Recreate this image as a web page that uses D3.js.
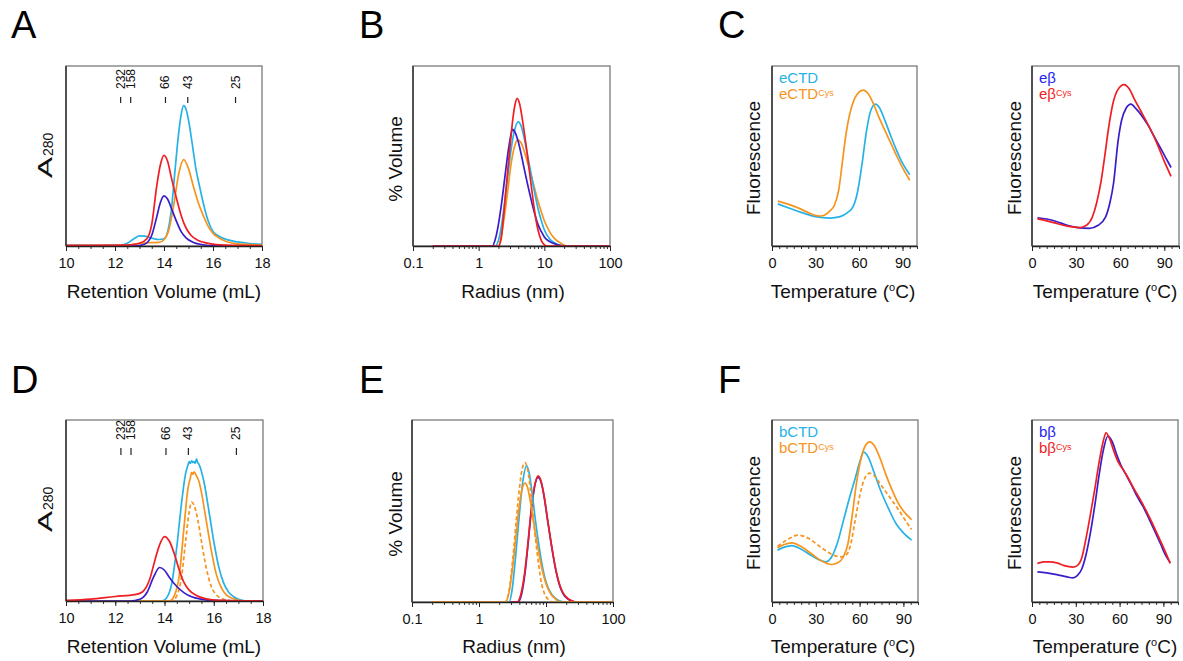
<!DOCTYPE html>
<html><head><meta charset="utf-8">
<script src="https://cdn.jsdelivr.net/npm/d3@7"></script>
<style>body{margin:0;background:#fff} text{font-family:"Liberation Sans",Arial,sans-serif}</style>
</head><body><svg id="c" width="1183" height="661"></svg>
<script>
// ---------- tick values / labels ----------
const volTicks = [10, 12, 14, 16, 18];
const radiusTicks = [0.1, 1, 10, 100];
const tempTicks = [0, 30, 60, 90];
const markerVolumes = [12.23, 12.64, 14.06, 14.97, 16.92];
const markerLabels = ['232', '158', '66', '43', '25'];

// ---------- Panel A: SEC (retention volume mL, A280 %) ----------
const aCyan = [[10,0.3],[12.2,0.3],[12.5,1.5],[12.8,4.3],[13.0,5.6],[13.2,5.5],[13.5,4.4],[13.8,3.6],[14.0,4],[14.15,8],[14.3,20],[14.45,42],[14.6,63],[14.7,73],[14.8,78],[14.9,76],[15.0,70],[15.15,57],[15.3,43],[15.47,32],[15.6,24],[15.8,14],[16.0,8],[16.3,5],[16.6,3.4],[17.0,2.3],[17.5,1.4],[18,0.9]];
const aOrange = [[10,0.2],[12.3,0.2],[12.8,1],[13.3,1.8],[13.8,2],[14.0,3.5],[14.2,9],[14.4,23],[14.6,40],[14.8,48],[15.0,43],[15.2,33],[15.4,24],[15.6,17],[15.8,11],[16.0,7],[16.3,4],[16.6,2.2],[17,1.2],[18,0.5]];
const aRed = [[10,0.3],[12.5,0.5],[13.0,1.5],[13.3,4],[13.5,12],[13.7,33],[13.85,45],[14.0,50.4],[14.15,47],[14.3,38],[14.5,27],[14.7,17],[14.9,10],[15.1,6],[15.4,3],[15.8,1.5],[16.5,0.5],[18,0.2]];
const aBlue = [[10,0],[12.8,0],[13.2,1],[13.5,6],[13.7,16],[13.85,24],[14.0,27.8],[14.15,26],[14.3,21],[14.5,14],[14.7,8],[14.9,4.5],[15.2,2],[15.6,0.7],[16,0.2],[18,0]];

// ---------- Panel D ----------
const dCyan = [[10,0],[13.9,0],[14.1,2],[14.3,10],[14.5,30],[14.7,55],[14.85,70],[14.95,75],[15.0,77],[15.05,76],[15.1,77.5],[15.15,76.5],[15.2,77],[15.25,76],[15.3,78.5],[15.35,76.5],[15.4,75.5],[15.6,66],[15.8,50],[16.0,33],[16.2,19],[16.4,10],[16.6,5],[16.8,2.5],[17.0,1],[17.4,0],[18,0]];
const dOrange = [[10,0],[14.2,0],[14.4,3],[14.6,14],[14.8,42],[14.95,62],[15.05,68],[15.1,71],[15.15,70],[15.2,71.3],[15.3,69],[15.4,66],[15.5,60],[15.7,44],[15.9,28],[16.1,15],[16.3,7.5],[16.5,3.5],[16.8,1.2],[17.2,0],[18,0]];
const dOrangeDash = [[10,0],[14.3,0],[14.5,3],[14.7,14],[14.85,32],[15.0,49],[15.1,54.6],[15.2,53],[15.35,45],[15.5,33],[15.7,18],[15.9,8],[16.1,3.5],[16.4,1],[16.8,0],[18,0]];
const dRed = [[10,0.3],[11,1],[12,2.5],[12.8,3.5],[13.1,5],[13.4,12],[13.6,22],[13.8,31],[14.0,35.6],[14.2,33],[14.4,26],[14.6,17],[14.8,10],[15.0,6],[15.3,3],[15.7,1.2],[16.2,0.4],[18,0]];
const dBlue = [[10,0],[12.6,0],[13.0,1],[13.3,5],[13.55,13],[13.8,18.5],[14.0,17],[14.2,13],[14.5,8],[14.8,4.5],[15.1,2.3],[15.5,1],[16,0.3],[18,0]];

// ---------- Panel B: DLS (radius nm, % volume) ----------
const bCyan = [[0.2,0],[1.8,0],[2.0,3],[2.2,10],[2.5,25],[2.8,40],[3.1,53],[3.5,64],[4.0,69],[4.5,66],[5.0,59],[5.5,51],[6.0,44],[7.0,31],[8.0,21],[9.0,14],[10,9],[12,4],[14,2],[17,0.5],[20,0],[100,0]];
const bOrange = [[0.2,0],[2.0,0],[2.2,5],[2.5,18],[2.8,32],[3.1,45],[3.5,55],[3.9,59],[4.4,57.5],[5.0,52],[5.5,47],[6.0,42],[7.0,33],[8.0,25],[9.0,19],[10,14],[12,8],[14,4.5],[17,2],[22,0],[100,0]];
const bBlue = [[0.2,0],[1.62,0],[1.8,4],[2.0,12],[2.2,22],[2.5,38],[2.8,52],[3.0,59],[3.27,64.8],[3.6,63],[4.0,58],[4.5,50],[5.0,42],[5.5,35],[6.0,29],[7.0,19],[8.0,12],[9.0,8],[10,5],[12,2.5],[15,1],[20,0],[100,0]];
const bRed = [[0.2,0],[2.0,0],[2.2,4],[2.4,17],[2.6,31],[2.8,44],[3.0,55],[3.3,70],[3.6,79],[3.85,82],[4.2,79],[4.6,71],[5.0,62],[5.5,51],[6.0,40],[6.5,30],[7.0,21],[7.5,14],[8.0,9],[9.0,3],[10.2,0.5],[11,0],[100,0]];

// ---------- Panel E ----------
const eCyan = [[0.2,0],[2.8,0],[3.1,6],[3.5,24],[4.0,48],[4.5,66],[5.14,74.8],[5.6,71],[6.2,60],[7.0,44],[8.0,29],[9.0,18],[10,11],[12,4.5],[14,1.8],[16,0.6],[18,0],[100,0]];
const eOrange = [[0.2,0],[2.45,0],[2.8,5],[3.2,20],[3.6,38],[4.0,53],[4.4,62],[4.85,65.3],[5.3,63],[5.8,56],[6.4,46],[7.0,37],[8.0,25],[9.0,16],[10,10],[12,4],[14,1.5],[16,0],[100,0]];
const eOrangeDash = [[0.2,0],[2.45,0],[2.8,6],[3.2,24],[3.6,45],[4.0,62],[4.4,73],[4.85,76.6],[5.3,73],[5.8,63],[6.3,50],[7.0,34],[7.8,20],[8.6,10],[9.5,4.5],[11,1.2],[12.8,0],[100,0]];
const eBlue = [[0.2,0],[3.8,0],[4.3,4],[4.9,17],[5.5,35],[6.1,52],[6.8,64],[7.6,68.5],[8.5,65.5],[9.5,56.5],[10.5,45.5],[12,31.5],[14,17.5],[16,9],[18,4.5],[21,1.8],[25,0.4],[28.5,0],[100,0]];
const eRed = [[0.2,0],[3.7,0],[4.2,4],[4.8,16],[5.4,33],[6.0,50],[6.7,63],[7.65,69.3],[8.5,66],[9.5,57],[10.5,46],[12,32],[14,18],[16,9.5],[18,5],[21,2],[25,0.5],[28.5,0],[100,0]];

// ---------- Panel C: thermal shift (temperature °C, fluorescence %) ----------
const cCTD = [[4,23.4],[12,21],[20,18.7],[30,16.3],[40,15.5],[47,16.3],[52,18.5],[56,22],[59,30],[62,45],[65,63],[68,75],[71.4,78.8],[74,77],[78,69.5],[82,61],[86,53],[90,46],[95,39.6]];
const cCTDCys = [[4,24.9],[12,23],[20,20.5],[28,17.5],[33,16.6],[37,17.5],[40,19.5],[43,22.5],[46,31],[48.6,47],[51,62],[53.5,73],[57,82],[60,85.5],[63,86.6],[66,85],[70,79],[74,71],[78,64],[82,57],[86,50],[90,43.5],[95,36.5]];
const cBeta = [[3.7,15.7],[10,15],[17,13.5],[24,11.5],[31,10.2],[39,9.8],[45,11.5],[50,16],[53,24],[55.5,35],[58.5,58],[61,70],[64,76.5],[67.3,78.8],[71,76],[75,72],[79,67],[83,61],[87,55],[91,49],[94.6,43.6]];
const cBetaCys = [[3.7,15.1],[10,14],[17,12.5],[24,11],[32.5,10.2],[37,11.5],[41,16],[44,24],[47,36],[49.5,50],[52,65],[55,79],[58.5,87],[62.7,89.7],[66,87.5],[70,81],[74,75],[78,69],[82,62.5],[86,55],[90,47],[94.6,38.7]];

// ---------- Panel F ----------
const fCTD = [[3.8,28.5],[8,30],[13.6,31],[20,29],[27,25.5],[33,23],[37,22.1],[41,25],[45,33],[49,45],[53,57],[57,68],[60.5,78],[62.8,82.3],[66,79.5],[70,71],[75,60],[80,51],[85,43],[90,38],[95.6,34]];
const fCTDCys = [[3.8,29.8],[8,31.5],[13.6,32.5],[20,30.5],[27,26.5],[34,22.5],[40.8,20.6],[45,21.5],[49,25],[52,32],[55,48],[57.8,65],[61,79],[64,86],[66.9,88],[70,86],[74,79],[78,70],[82,62],[86,55],[90,50],[95.6,45.3]];
const fCTDCysDash = [[3.8,30.5],[10,34],[18,36.7],[25,35],[32,31],[38,27.5],[43,25.5],[47.6,24.8],[51,26],[54,32],[57,45],[60,58],[63,67],[66.9,70.8],[70,69.5],[74,65],[78,60.5],[82,56],[86,51.5],[90,46.5],[95.6,39.8]];
const fBeta = [[3.7,16.6],[10,16],[17,15],[24,13.8],[28,13.3],[31,14.5],[34,18],[37,26],[40,38],[43,53],[46,70],[49,84],[52,91.2],[55,88],[58,81],[61,75],[64,70.5],[68,64.5],[72,58],[76,52.5],[80,46],[84,39],[88,32],[91,26.5],[94.7,21.5]];
const fBetaCys = [[3.7,21.2],[8,22],[12,22.1],[17,21.5],[22,20],[28,19.2],[31,20],[34,24],[37,35],[40,48],[43,62],[46,77],[49,89],[50.7,93],[53,90],[56,83],[59,77],[62.6,72.5],[66,68],[70,62],[74,56.5],[78,50.5],[82,44],[86,37],[90,30],[94.7,21.2]];

// ---------- drawing ----------
const COL = {cyan:'#27b2e6', orange:'#f7941d', red:'#f01e23', blue:'#3a1dc9', legBlue:'#2424ee'};
const svg = d3.select('#c');
const defs = svg.append('defs');
let clipN = 0;

function logMinor() {
  const out = [];
  [0.1, 1, 10].forEach(d => { for (let k = 2; k <= 9; k++) out.push(d * k); });
  return out;
}

function drawPanel(p) {
  const g = svg.append('g');
  const x = (p.log ? d3.scaleLog() : d3.scaleLinear()).domain(p.xDomain).range([p.x0, p.x1]);
  const y = d3.scaleLinear().domain([0, 100]).range([p.y1, p.y0]);
  const cid = 'clip' + (clipN++);
  defs.append('clipPath').attr('id', cid).append('rect')
    .attr('x', p.x0).attr('y', p.y0).attr('width', p.x1 - p.x0).attr('height', p.y1 - p.y0 + 1);
  g.append('rect').attr('x', p.x0).attr('y', p.y0).attr('width', p.x1 - p.x0).attr('height', p.y1 - p.y0)
    .attr('fill', 'none').attr('stroke', '#7a7a7a').attr('stroke-width', 1.3);
  const line = d3.line().x(d => x(d[0])).y(d => y(d[1])).curve(d3.curveMonotoneX);
  p.series.forEach(s => {
    g.append('path').attr('d', line(s.data)).attr('fill', 'none').attr('stroke', s.color)
      .attr('stroke-width', 1.7).attr('stroke-dasharray', s.dash || null).attr('clip-path', `url(#${cid})`);
  });
  const gmin = g.append('g').attr('transform', `translate(0,${p.y1})`)
    .call(d3.axisBottom(x).tickValues(p.minor).tickSize(3).tickSizeOuter(0).tickFormat(''));
  gmin.select('.domain').remove();
  gmin.selectAll('line').attr('stroke', '#333');
  const gmaj = g.append('g').attr('transform', `translate(0,${p.y1})`)
    .call(d3.axisBottom(x).tickValues(p.major).tickSize(5).tickSizeOuter(0).tickFormat(p.fmt));
  gmaj.select('.domain').attr('stroke', '#222').attr('stroke-width', 1.3);
  gmaj.selectAll('line').attr('stroke', '#222');
  gmaj.selectAll('text').attr('y', 21.5).attr('dy', 0).attr('font-size', 14.5)
    .attr('fill', '#111').attr('font-family', '"Liberation Sans",Arial,sans-serif');
  g.append('line').attr('x1', p.x0).attr('x2', p.x0).attr('y1', p.y0).attr('y2', p.y1)
    .attr('stroke', '#222').attr('stroke-width', 1.3);
  if (p.markers) {
    markerVolumes.forEach((v, i) => {
      const mx = x(v);
      g.append('line').attr('x1', mx).attr('x2', mx).attr('y1', p.y0 + p.mTick[0]).attr('y2', p.y0 + p.mTick[1])
        .attr('stroke', '#222').attr('stroke-width', 1.2);
      g.append('text').attr('transform', `translate(${mx + 4},${p.y0 + p.mLab}) rotate(-90)`)
        .attr('font-size', 12).attr('fill', '#111').text(markerLabels[i]);
    });
  }
  return {x, y, g};
}

function xTitle(cx, by, kind) {
  const t = svg.append('text').attr('x', cx).attr('y', by).attr('text-anchor', 'middle')
    .attr('font-size', 19).attr('fill', '#111');
  if (kind === 'temp') {
    t.append('tspan').text('Temperature (');
    t.append('tspan').attr('font-size', 11).attr('dy', -7).text('o');
    t.append('tspan').attr('dy', 7).text('C)');
  } else t.text(kind);
}
function yTitle(bx, cy, txt) {
  svg.append('text').attr('transform', `translate(${bx},${cy}) rotate(-90)`).attr('text-anchor', 'middle')
    .attr('font-size', 19).attr('fill', '#111').text(txt);
}
function yA280(bx, cy) {
  const g = svg.append('g').attr('transform', `translate(${bx},${cy}) rotate(-90)`);
  g.append('text').attr('transform', 'translate(-21,0) scale(1.5,1)').attr('font-size', 21).attr('fill', '#111').text('A');
  g.append('text').attr('x', 1).attr('y', 1).attr('font-size', 14).attr('fill', '#111').text('280');
}
function letter(x, y, t) {
  svg.append('text').attr('x', x).attr('y', y).attr('font-size', 38).attr('fill', '#000').text(t);
}
function legend(x, y, txt, color, sup) {
  const t = svg.append('text').attr('x', x).attr('y', y).attr('font-size', 15).attr('fill', color);
  t.append('tspan').text(txt);
  if (sup) t.append('tspan').attr('font-size', 9).attr('dy', -3).text(sup);
}

const fmtNum = d => d3.format('')(d);
const volMinor = d3.range(10, 18.01, 0.5);
const tempMinor = d3.range(0, 100.01, 5);

drawPanel({x0:66, x1:262, y0:66, y1:246, xDomain:[10,18], major:volTicks, minor:volMinor, fmt:fmtNum,
  markers:true, mTick:[31,37], mLab:23,
  series:[{data:aCyan,color:COL.cyan},{data:aOrange,color:COL.orange},{data:aBlue,color:COL.blue},{data:aRed,color:COL.red}]});
drawPanel({x0:413, x1:610, y0:66, y1:246, log:true, xDomain:[0.1,100], major:radiusTicks, minor:logMinor(), fmt:d => String(d),
  series:[{data:bOrange,color:COL.orange},{data:bCyan,color:COL.cyan},{data:bBlue,color:COL.blue},{data:bRed,color:COL.red}]});
drawPanel({x0:772, x1:917, y0:66, y1:246, xDomain:[0,100], major:tempTicks, minor:tempMinor, fmt:fmtNum,
  series:[{data:cCTD,color:COL.cyan},{data:cCTDCys,color:COL.orange}]});
drawPanel({x0:1032, x1:1179, y0:66, y1:246, xDomain:[0,100], major:tempTicks, minor:tempMinor, fmt:fmtNum,
  series:[{data:cBeta,color:COL.blue},{data:cBetaCys,color:COL.red}]});
drawPanel({x0:66, x1:263, y0:420, y1:601, xDomain:[10,18], major:volTicks, minor:volMinor, fmt:fmtNum,
  markers:true, mTick:[28,35], mLab:20,
  series:[{data:dCyan,color:COL.cyan},{data:dOrange,color:COL.orange},{data:dOrangeDash,color:COL.orange,dash:'4,2.5'},{data:dBlue,color:COL.blue},{data:dRed,color:COL.red}]});
drawPanel({x0:412, x1:613, y0:420, y1:602, log:true, xDomain:[0.1,100], major:radiusTicks, minor:logMinor(), fmt:d => String(d),
  series:[{data:eBlue,color:COL.blue},{data:eRed,color:COL.red},{data:eCyan,color:COL.cyan},{data:eOrange,color:COL.orange},{data:eOrangeDash,color:COL.orange,dash:'4,2.5'}]});
drawPanel({x0:772, x1:918, y0:420, y1:602, xDomain:[0,100], major:tempTicks, minor:tempMinor, fmt:fmtNum,
  series:[{data:fCTD,color:COL.cyan},{data:fCTDCysDash,color:COL.orange,dash:'4,2.5'},{data:fCTDCys,color:COL.orange}]});
drawPanel({x0:1032, x1:1178, y0:420, y1:602, xDomain:[0,100], major:tempTicks, minor:tempMinor, fmt:fmtNum,
  series:[{data:fBeta,color:COL.blue},{data:fBetaCys,color:COL.red}]});

xTitle(164, 298, 'Retention Volume (mL)');
xTitle(513, 298, 'Radius (nm)');
xTitle(843, 298, 'temp');
xTitle(1105, 298, 'temp');
xTitle(164, 653, 'Retention Volume (mL)');
xTitle(514, 653, 'Radius (nm)');
xTitle(843, 653, 'temp');
xTitle(1105, 653, 'temp');
yA280(52, 157);
yA280(52, 511);
yTitle(402, 159, '% Volume');
yTitle(402, 514, '% Volume');
yTitle(760, 158, 'Fluorescence');
yTitle(1021, 158, 'Fluorescence');
yTitle(760, 513, 'Fluorescence');
yTitle(1021, 513, 'Fluorescence');

legend(779, 83, 'eCTD', COL.cyan);
legend(779, 98.5, 'eCTD', COL.orange, 'Cys');
legend(1039, 83, 'eβ', COL.legBlue);
legend(1039, 98.5, 'eβ', COL.red, 'Cys');
legend(779, 437, 'bCTD', COL.cyan);
legend(779, 452.5, 'bCTD', COL.orange, 'Cys');
legend(1039, 437, 'bβ', COL.legBlue);
legend(1039, 452.5, 'bβ', COL.red, 'Cys');

letter(11, 38, 'A');
letter(359, 38, 'B');
letter(718, 38, 'C');
letter(11, 393, 'D');
letter(359, 393, 'E');
letter(718, 393, 'F');
</script></body></html>
